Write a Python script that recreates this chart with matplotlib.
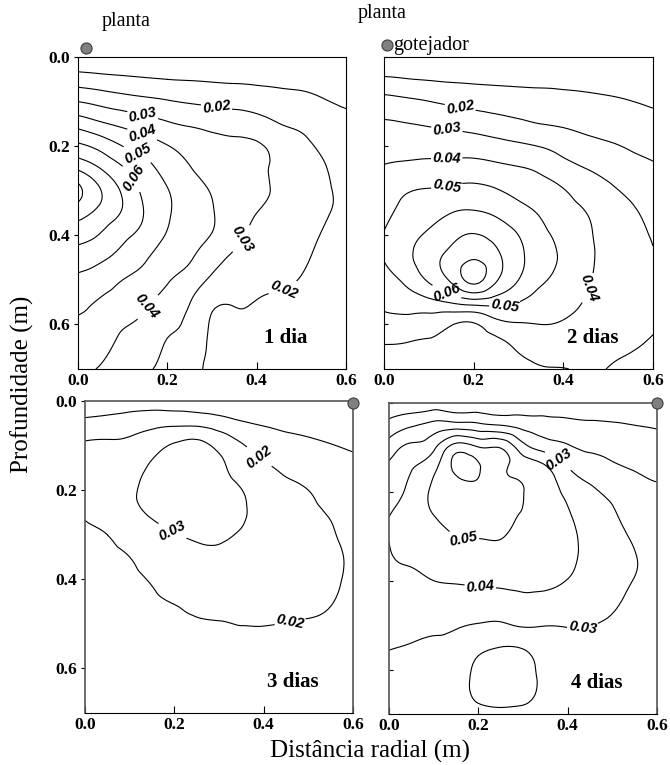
import numpy as np
import matplotlib
matplotlib.use('Agg')
import matplotlib.pyplot as plt
import matplotlib.tri as mtri

plt.rcParams['font.family'] = 'serif'
plt.rcParams['font.serif'] = ['Liberation Serif', 'DejaVu Serif']

# grid nodes: radial distance (m) and depth (m)
dist = np.linspace(0.0, 0.6, 13)
prof = np.linspace(0.0, 0.7, 15)

# water content (x1000), one list per radial distance, top -> bottom
umid_1dia = [
    [1, 14.8, 30, 46.3, 62.2, 78.6, 92.5, 84, 74, 65, 58, 52.6, 48.4, 45.2, 42],
    [1, 13.3, 27.2, 41.6, 56.9, 70, 80.5, 76.9, 69.3, 61.8, 54.8, 49.0, 45.8, 42.6, 39.3],
    [1, 12, 24.6, 37.8, 50, 61, 68.5, 69, 62.4, 56.8, 50, 45.5, 40.9, 38, 35.5],
    [1, 10.9, 22.6, 34.6, 45.3, 53.6, 57.7, 59.4, 56.7, 51.2, 46.5, 41.5, 37.8, 34.7, 31.5],
    [1, 10.0, 20.8, 31.2, 40.4, 46.1, 50.5, 51.1, 49.2, 45, 40.8, 36.4, 32, 29.1, 27.5],
    [1, 9.5, 19.2, 28.8, 37, 40.4, 44.3, 45.6, 44.5, 41, 35.7, 30.3, 27.8, 25.4, 23],
    [1, 8.9, 18.1, 26.9, 34, 37, 39.5, 40.5, 39.6, 34, 28.3, 22, 19, 18.6, 18.4],
    [1, 8.4, 17.1, 25.5, 32.5, 34.4, 35.6, 35.2, 33, 28.4, 24.6, 20.6, 19.2, 18.5, 17.8],
    [1, 7.9, 15.8, 24, 31, 31.7, 32.1, 30, 27.4, 24.7, 22.1, 19.8, 18.9, 17.9, 17],
    [1, 7.4, 13.9, 20.2, 27.3, 28.4, 28.6, 27.2, 25.6, 23.6, 21, 19.3, 18.2, 17.1, 16],
    [1, 7.1, 12.7, 17.9, 22.7, 24.4, 24.9, 24.1, 22.6, 21.2, 19.7, 18.5, 17.3, 16.2, 15],
    [1, 5.9, 10.6, 14.5, 18.4, 20.5, 21, 20.6, 19.6, 18.7, 17.9, 17, 16, 15, 14],
    [1, 4.9, 8.8, 12.5, 15.5, 17.5, 19, 19.3, 18.5, 17.7, 16.9, 16, 15, 14, 13],
]
umid_2dias = [
    [1, 11.5, 23.6, 31.1, 36.2, 40.8, 44.4, 47.9, 50.5, 50.4, 46.6, 42.2, 36.3, 29.5, 27],
    [1, 10.4, 22, 30.3, 36.2, 42.4, 49.3, 52.9, 56.1, 57.5, 52.1, 45, 35.7, 29.2, 27],
    [1, 9.5, 20.2, 29.1, 36.1, 43.3, 50.8, 56.6, 61.7, 66, 61.5, 47.1, 34.4, 28.5, 26],
    [1, 8.8, 18.2, 27.7, 35.8, 43.7, 52.1, 60, 67.1, 73, 71.7, 50.9, 30.5, 27.6, 25],
    [1, 8.4, 16.6, 26, 35.3, 44.1, 52.8, 61.2, 70.7, 79, 83, 55, 29, 27.4, 25],
    [1, 8, 15.5, 24, 33.6, 42.5, 50.8, 58.5, 66.7, 72.5, 71.2, 54, 36.2, 26.5, 25],
    [1, 7.7, 14.5, 22, 31.8, 40.7, 47.3, 53.8, 60, 62.5, 60, 50, 39.2, 31.5, 27],
    [1, 7.4, 13.8, 20, 29.6, 38.3, 44, 49, 52.5, 54.5, 51.5, 45.9, 40, 34.3, 29.3],
    [1, 7.2, 13.1, 18.9, 26.2, 33.8, 40.6, 44.5, 47.5, 48.5, 47, 43.5, 39.1, 34.5, 29.7],
    [1, 6.8, 12.3, 17.4, 23.3, 30, 35.3, 40.2, 42, 42.5, 41.5, 39.3, 36.5, 33.5, 31],
    [1, 6.3, 11.4, 16.2, 21.2, 27.1, 31.5, 34.5, 36.5, 37, 36.5, 35.5, 34, 32, 29.8],
    [1, 5.6, 10.2, 14.6, 19.1, 23.6, 28.2, 31.5, 33.2, 34, 33.8, 33, 32, 30.6, 27.8],
    [1, 4.9, 8.8, 13, 17.4, 21.1, 23.8, 26.5, 29.2, 30.5, 31, 31, 30.5, 29, 26],
]
umid_3dias = [
    [0, 13, 21.2, 24.5, 24.5, 21, 19, 18, 17, 16.5, 16, 15.5, 15, 14.5, 14],
    [2, 14.1, 21.5, 25.2, 26.8, 24, 20, 18.5, 17.5, 17, 16.5, 16, 15.5, 15, 14.5],
    [4, 15.4, 22, 26, 28.8, 27.5, 24, 20, 18.5, 17.5, 17, 16.5, 16, 15.5, 15],
    [5, 17, 26.4, 31.3, 32.4, 31, 27.6, 24.1, 20.7, 19, 18, 17.5, 17, 16.5, 16],
    [5, 17.8, 31, 33, 34, 32.5, 29.7, 26.5, 23.4, 20.3, 19, 18.5, 18, 17.5, 17],
    [4, 17.6, 33, 33.5, 34.5, 33.5, 31, 27.9, 24.8, 21.8, 19.5, 19, 18.5, 18, 17.5],
    [3, 14.8, 27.7, 31.5, 33, 32.5, 31, 28.3, 25.4, 22.6, 19.7, 19, 18.5, 18, 17.5],
    [3, 11.1, 21, 26, 30.2, 30.8, 29.5, 27.2, 24.8, 22.5, 20.1, 19.5, 19, 18.5, 18],
    [2, 9.1, 15.9, 21.4, 24.5, 27, 28, 27.5, 26, 23.5, 20.2, 19.5, 19, 18.5, 18],
    [2, 7.9, 13.3, 18.5, 21.5, 23.7, 25.2, 25.4, 24.5, 22.5, 19.9, 19, 18.5, 18, 17.5],
    [2, 7, 11.7, 15.8, 20, 21.5, 22.5, 23, 22.5, 21.3, 19.6, 18.7, 18.2, 17.7, 17.2],
    [2, 6.2, 10.3, 13.3, 16.4, 19.4, 20.5, 21, 20.8, 20.2, 19.2, 18.5, 18, 17.5, 17],
    [2, 5.6, 9.1, 12, 14.5, 16.8, 18.5, 19.4, 19.3, 18.9, 18.3, 17.8, 17.3, 16.8, 16.3],
]
umid_4dias = [
    [2, 13.4, 24.5, 32.5, 36, 39.7, 40.2, 39.4, 38, 35.5, 33, 30.3, 28.5, 27.5, 26.5],
    [3, 18.8, 32.4, 39.8, 42.5, 44.5, 45, 41.5, 38.2, 35.3, 32.4, 29.5, 28, 27, 26],
    [4, 23.3, 38.1, 48.1, 52, 50.2, 46.7, 43.3, 40, 35.8, 31.7, 28.5, 27, 26, 25],
    [4, 24.2, 55, 62, 56, 53.5, 50, 45.4, 40.7, 35.8, 30.8, 27, 24, 22.5, 22],
    [4, 22.5, 50.5, 61, 56.5, 53.3, 50.4, 46.1, 41.4, 35.6, 29.4, 22.1, 18.5, 19, 21],
    [4, 20, 49.5, 52, 54, 52, 50.4, 46.2, 41.9, 36, 28.7, 19.9, 17, 18, 21],
    [4, 16.5, 34, 47, 50.2, 49.5, 47.5, 45, 42, 38, 31, 20.5, 18, 18.5, 21.5],
    [4, 14.1, 26, 42.5, 45, 46, 46, 45, 42.5, 36.3, 30.2, 25, 22, 21.5, 22],
    [3, 12.8, 21.3, 31.1, 37.7, 41, 42.5, 42, 39.7, 34.8, 30.4, 27, 25, 24, 23],
    [3, 11.6, 18.2, 25.8, 31.5, 34.5, 37, 37.5, 36.5, 34, 30.2, 27.5, 25.5, 24.5, 23.5],
    [3, 11, 16.6, 22.2, 27.8, 31, 33, 33.5, 32.5, 31, 28.8, 27, 26, 25, 24],
    [2, 10, 14.9, 19.7, 22.8, 25.8, 28.8, 30.3, 29.8, 28.8, 27.8, 26.8, 26, 25.2, 24.5],
    [2, 9.1, 13.8, 18, 21.3, 24, 26.3, 28.2, 28, 27.5, 26.8, 26, 25.3, 24.7, 24],
]

niveis_1 = [0.01, 0.02, 0.03, 0.04, 0.05, 0.06, 0.07, 0.08, 0.09]
niveis_2 = [0.01, 0.02, 0.03, 0.04, 0.05, 0.06, 0.07, 0.08]
niveis_3 = [0.01, 0.02, 0.03]
niveis_4 = [0.01, 0.02, 0.03, 0.04, 0.05, 0.06]

# where the contour labels sit (dist, depth)
pos_1 = [(0.31, 0.113), (0.145, 0.13), (0.145, 0.17), (0.135, 0.215),
         (0.125, 0.27), (0.37, 0.41), (0.46, 0.52), (0.155, 0.56)]
pos_2 = [(0.17, 0.113), (0.14, 0.165), (0.14, 0.228), (0.14, 0.288),
         (0.14, 0.527), (0.27, 0.56), (0.46, 0.52)]
pos_3 = [(0.39, 0.125), (0.195, 0.293), (0.46, 0.50)]
pos_4 = [(0.38, 0.128), (0.166, 0.308), (0.204, 0.416), (0.434, 0.506)]

titulos = ['1 dia', '2 dias', '3 dias', '4 dias']
xticks = [0.0, 0.2, 0.4, 0.6]
yticks = [0.0, 0.2, 0.4, 0.6]

fig = plt.figure(figsize=(6.7, 7.65), dpi=100)
ax1 = fig.add_axes([0.1164, 0.5176, 0.4, 0.4078])
ax2 = fig.add_axes([0.5731, 0.5176, 0.4015, 0.4078])
ax3 = fig.add_axes([0.1269, 0.0680, 0.4, 0.4078])
ax4 = fig.add_axes([0.5806, 0.0667, 0.4, 0.4065])

tick_font = {'family': 'serif', 'weight': 'bold', 'size': 12.5}

X, Y = np.meshgrid(dist, prof)
malha = mtri.Triangulation(X.ravel(), Y.ravel())
refinador = mtri.UniformTriRefiner(malha)


def painel(ax, cols, niveis, pos, titulo, ylabels, ydir):
    z = np.array(cols).T / 1000.0
    tri_f, z_f = refinador.refine_field(z.ravel(), subdiv=3)
    cs = ax.tricontour(tri_f, z_f, levels=niveis, colors='k', linewidths=0.8)
    lbl = ax.clabel(cs, manual=pos, inline=True,
                    inline_spacing=3, fmt='%.2f', fontsize=10.5)
    for t in lbl:
        t.set_family('Liberation Sans')
        t.set_weight('bold')
        t.set_style('italic')
    ax.set_xlim(0, 0.6)
    ax.set_ylim(0.7, 0)
    ax.set_xticks(xticks)
    ax.set_xticklabels(['%.1f' % v for v in xticks], fontdict=tick_font)
    ax.set_yticks(yticks)
    if ylabels:
        ax.set_yticklabels(['%.1f' % v for v in yticks], fontdict=tick_font)
    else:
        ax.set_yticklabels([])
    ax.tick_params(axis='x', direction='in', length=5, width=0.8, pad=3)
    ax.tick_params(axis='y', direction=ydir, length=3, width=0.8, pad=3)
    ax.text(0.465, 0.63, titulo, fontsize=15, fontweight='bold',
            ha='center', va='center')
    return ax


painel(ax1, umid_1dia, niveis_1, pos_1, titulos[0], True, 'out')
painel(ax2, umid_2dias, niveis_2, pos_2, titulos[1], False, 'in')
painel(ax3, umid_3dias, niveis_3, pos_3, titulos[2], True, 'out')
painel(ax4, umid_4dias, niveis_4, pos_4, titulos[3], False, 'in')

for ax in (ax3, ax4):
    for s in ('top', 'left', 'right'):
        ax.spines[s].set_color('#555555')
        ax.spines[s].set_linewidth(1.2)

circ = dict(marker='o', ms=8, mfc='#808080', mec='#404040', mew=0.8,
            clip_on=False, zorder=6, ls='none')
ax1.plot([0.018], [-0.02], **circ)
ax1.text(0.108, -0.079, 'planta', fontsize=14.5, ha='center', va='center')
ax2.plot([0.007], [-0.027], **circ)
ax2.text(-0.004, -0.097, 'planta', fontsize=14.5, ha='center', va='center')
ax2.text(0.02, -0.027, 'gotejador', fontsize=14.5, ha='left', va='center')
ax3.plot([0.6], [0.005], **circ)
ax4.plot([0.6], [0.0], **circ)

fig.text(0.034, 0.498, 'Profundidade (m)', rotation=90, fontsize=18,
         ha='center', va='center')
fig.text(0.552, 0.018, 'Distância radial (m)', fontsize=18,
         ha='center', va='center')

fig.savefig('out.png', dpi=100)
